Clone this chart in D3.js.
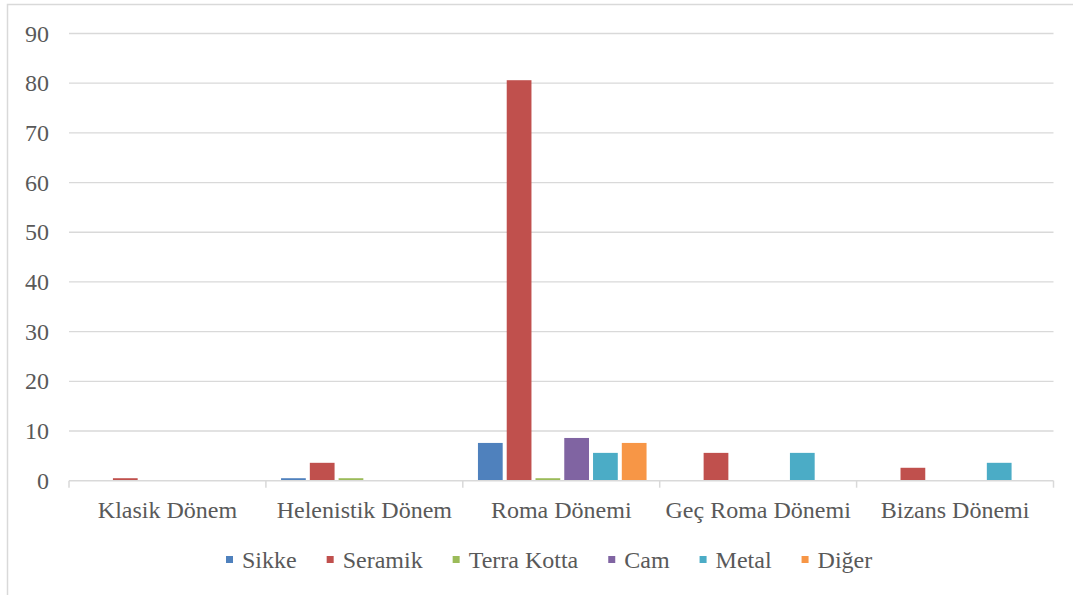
<!DOCTYPE html>
<html>
<head>
<meta charset="utf-8">
<script src="https://cdn.jsdelivr.net/npm/d3@7"></script>
<style>
  body { margin: 0; background: #fff; }
  svg text { font-family: "Liberation Serif", "Times New Roman", serif; fill: #595959; }
</style>
</head>
<body>
<svg id="chart" width="1073" height="595"></svg>
<script>
// data
var categories = ['Klasik Dönem', 'Helenistik Dönem', 'Roma Dönemi', 'Geç Roma Dönemi', 'Bizans Dönemi'];
var series = ['Sikke', 'Seramik', 'Terra Kotta', 'Cam', 'Metal', 'Diğer'];
var colors = ['#4f81bd', '#c0504d', '#9bbb59', '#8064a2', '#4bacc6', '#f79646'];
var sikke      = [0,   0.5, 7.6,  0,   0];
var seramik    = [0.5, 3.6, 80.6, 5.6, 2.6];
var terraKotta = [0,   0.5, 0.5,  0,   0];
var cam        = [0,   0,   8.6,  0,   0];
var metal      = [0,   0,   5.6,  5.6, 3.6];
var diger      = [0,   0,   7.6,  0,   0];
var yTicks = [0, 10, 20, 30, 40, 50, 60, 70, 80, 90];

var values = [sikke, seramik, terraKotta, cam, metal, diger];

var svg = d3.select('#chart');
var fontSize = 24;

// outer frame (runs off the right and bottom)
svg.append('rect')
    .attr('x', 7.5).attr('y', 4.5)
    .attr('width', 1080).attr('height', 600)
    .attr('fill', 'none').attr('stroke', '#d9d9d9').attr('stroke-width', 1.5);

var plotLeft = 69, plotRight = 1053.5, plotTop = 33.5, plotBottom = 480.7;

var x0 = d3.scaleBand().domain(categories).range([plotLeft, plotRight]).padding(0);
var x1 = d3.scaleBand().domain(series)
    .range([14, x0.bandwidth() - 12])
    .paddingInner(0.14).paddingOuter(0.04);
var y = d3.scaleLinear().domain([0, 90]).range([plotBottom, plotTop]);

// gridlines
svg.append('g').selectAll('line').data(yTicks.slice(1)).enter().append('line')
    .attr('x1', plotLeft).attr('x2', plotRight)
    .attr('y1', function(d) { return y(d); })
    .attr('y2', function(d) { return y(d); })
    .attr('stroke', '#d9d9d9').attr('stroke-width', 1.3);

// y labels
svg.append('g').selectAll('text').data(yTicks).enter().append('text')
    .attr('x', 49).attr('y', function(d) { return y(d); })
    .attr('dy', '0.34em')
    .attr('text-anchor', 'end')
    .attr('font-size', fontSize)
    .text(function(d) { return d; });

// bars
var groups = svg.append('g').selectAll('g').data(categories).enter().append('g')
    .attr('transform', function(d) { return 'translate(' + x0(d) + ',0)'; });

groups.selectAll('rect')
    .data(function(d, i) {
        return series.map(function(s, j) { return {s: s, v: values[j][i], c: colors[j]}; });
    })
    .enter().append('rect')
    .filter(function(d) { return d.v > 0; })
    .attr('x', function(d) { return x1(d.s); })
    .attr('width', x1.bandwidth())
    .attr('y', function(d) { return y(d.v); })
    .attr('height', function(d) { return plotBottom - y(d.v); })
    .attr('fill', function(d) { return d.c; });

// x axis
var xAxis = d3.axisBottom(x0).tickSize(0).tickFormat(function(d) { return d; });
var gx = svg.append('g').attr('transform', 'translate(0,' + plotBottom + ')').call(xAxis);
gx.select('.domain').remove();
gx.selectAll('text')
    .attr('font-size', fontSize)
    .attr('fill', '#595959')
    .attr('font-family', '"Liberation Serif", "Times New Roman", serif')
    .attr('dy', 0).attr('y', 37);

svg.append('line')
    .attr('x1', plotLeft).attr('x2', plotRight)
    .attr('y1', plotBottom).attr('y2', plotBottom)
    .attr('stroke', '#d9d9d9').attr('stroke-width', 1.5);

var bounds = categories.map(function(c) { return x0(c); }).concat([plotRight]);
svg.append('g').selectAll('line').data(bounds).enter().append('line')
    .attr('x1', function(d) { return d; }).attr('x2', function(d) { return d; })
    .attr('y1', plotBottom).attr('y2', plotBottom + 7)
    .attr('stroke', '#d9d9d9').attr('stroke-width', 1.5);

// legend
var legend = svg.append('g');
var lx = 226;
series.forEach(function(s, i) {
    legend.append('rect')
        .attr('x', lx).attr('y', 556)
        .attr('width', 7).attr('height', 7)
        .attr('fill', colors[i]);
    var t = legend.append('text')
        .attr('x', lx + 16).attr('y', 568)
        .attr('font-size', fontSize)
        .text(s);
    lx += 16 + t.node().getComputedTextLength() + 30;
});
</script>
</body>
</html>
